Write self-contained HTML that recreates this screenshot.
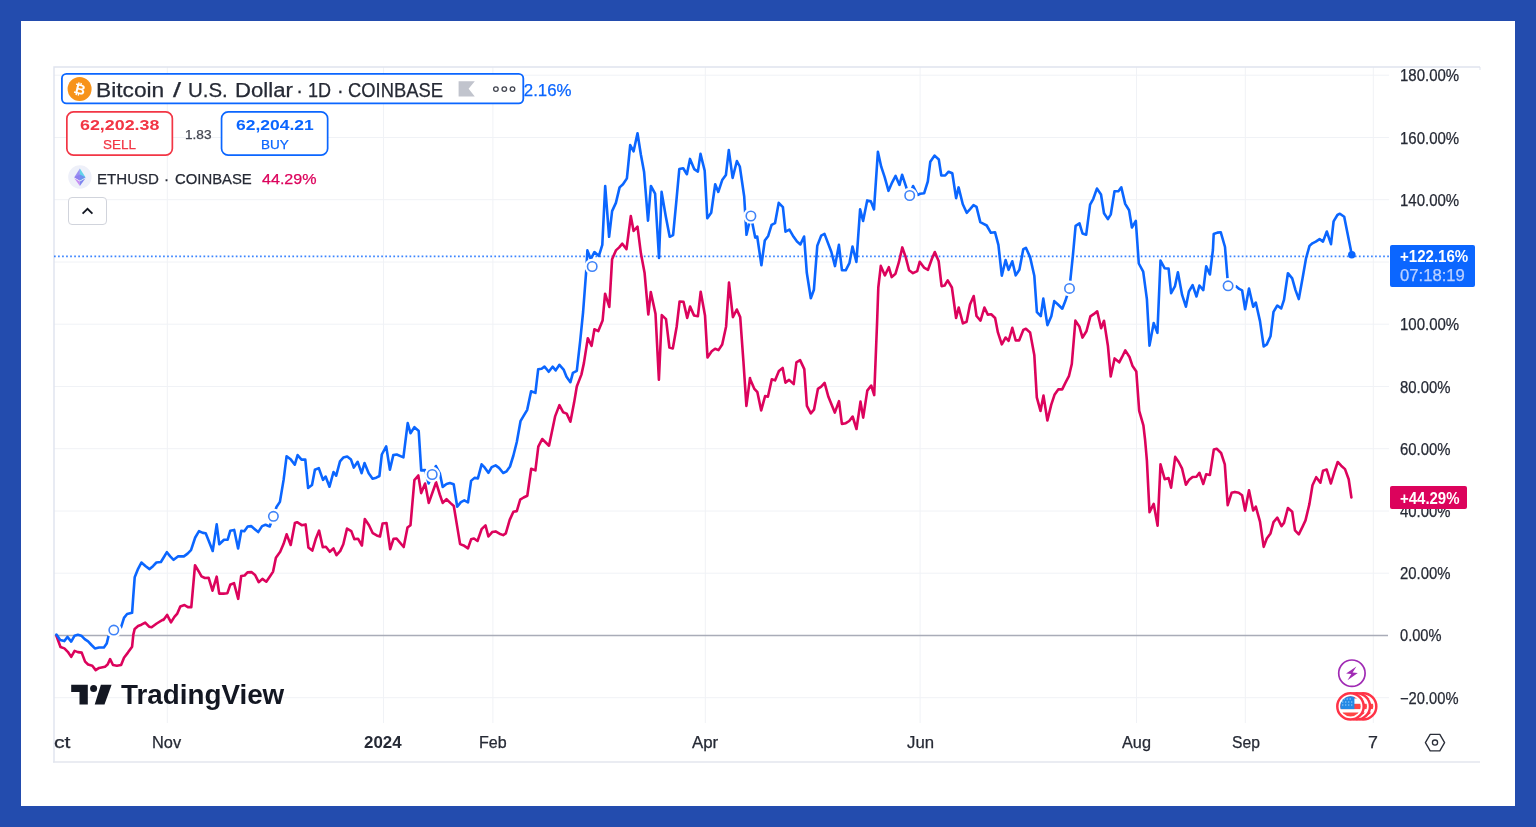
<!DOCTYPE html>
<html lang="en"><head><meta charset="utf-8"><title>BTCUSD vs ETHUSD</title>
<style>
html,body{margin:0;padding:0}
body{width:1536px;height:827px;overflow:hidden;background:#234cae;position:relative;font-family:"Liberation Sans",sans-serif;color:#131722}
.panel{position:absolute;left:21px;top:21px;width:1494px;height:785px;background:#fff}
.chart{position:absolute;left:0;top:0}
.abs{position:absolute;white-space:nowrap}
.tx{position:absolute;white-space:nowrap;transform-origin:0 50%;z-index:2;-webkit-text-stroke:.25px}
.tx.b{-webkit-text-stroke:0}
.title{position:absolute;left:60.8px;top:72.8px;width:460.6px;height:29.2px;border:1.8px solid #0b66ff;border-radius:5px;background:#fff;z-index:1}
.box{position:absolute;top:111px;height:43px;border:1.8px solid;border-radius:7px;background:#fff}
.lab{position:absolute;left:1390px;border-radius:2px;z-index:2}
</style></head><body>
<div class="panel"></div>
<svg class="chart" width="1536" height="827" viewBox="0 0 1536 827">
<line x1="167.3" y1="67" x2="167.3" y2="723" stroke="#f0f2f6" stroke-width="1"/>
<line x1="383.5" y1="67" x2="383.5" y2="723" stroke="#f0f2f6" stroke-width="1"/>
<line x1="492.9" y1="67" x2="492.9" y2="723" stroke="#f0f2f6" stroke-width="1"/>
<line x1="705.3" y1="67" x2="705.3" y2="723" stroke="#f0f2f6" stroke-width="1"/>
<line x1="920.1" y1="67" x2="920.1" y2="723" stroke="#f0f2f6" stroke-width="1"/>
<line x1="1136.5" y1="67" x2="1136.5" y2="723" stroke="#f0f2f6" stroke-width="1"/>
<line x1="1245.3" y1="67" x2="1245.3" y2="723" stroke="#f0f2f6" stroke-width="1"/>
<line x1="1373.3" y1="67" x2="1373.3" y2="723" stroke="#f0f2f6" stroke-width="1"/>
<line x1="54" y1="75.2" x2="1389" y2="75.2" stroke="#f0f2f6" stroke-width="1"/>
<line x1="54" y1="137.5" x2="1389" y2="137.5" stroke="#f0f2f6" stroke-width="1"/>
<line x1="54" y1="199.7" x2="1389" y2="199.7" stroke="#f0f2f6" stroke-width="1"/>
<line x1="54" y1="262.0" x2="1389" y2="262.0" stroke="#f0f2f6" stroke-width="1"/>
<line x1="54" y1="324.2" x2="1389" y2="324.2" stroke="#f0f2f6" stroke-width="1"/>
<line x1="54" y1="386.5" x2="1389" y2="386.5" stroke="#f0f2f6" stroke-width="1"/>
<line x1="54" y1="448.7" x2="1389" y2="448.7" stroke="#f0f2f6" stroke-width="1"/>
<line x1="54" y1="511.0" x2="1389" y2="511.0" stroke="#f0f2f6" stroke-width="1"/>
<line x1="54" y1="573.2" x2="1389" y2="573.2" stroke="#f0f2f6" stroke-width="1"/>
<line x1="54" y1="697.7" x2="1389" y2="697.7" stroke="#f0f2f6" stroke-width="1"/>
<line x1="54" y1="635.5" x2="1388" y2="635.5" stroke="#a9acb8" stroke-width="1.3"/>
<path d="M54 762.5 L54 67 L1480 67" fill="none" stroke="#dfe3ee" stroke-width="1.4"/>
<path d="M53 762 L1480 762" fill="none" stroke="#e3e6ee" stroke-width="1.4"/>
<path d="M1480 67 L1480 70" fill="none" stroke="#dfe3ee" stroke-width="1"/>
<line x1="54" y1="256.3" x2="1390" y2="256.3" stroke="#0b66ff" stroke-width="1.7" stroke-opacity=".8" stroke-dasharray="1.7 2.34"/>
<path d="M56.4 635.7 L60.5 647.0 L64.4 648.4 L67.8 651.8 L71.2 656.9 L74.6 650.9 L77.9 652.1 L81.7 652.6 L85.1 661.6 L88.1 664.5 L92.3 665.7 L95.7 670.1 L99.1 667.9 L105.0 666.7 L107.6 664.5 L110.1 659.1 L113.0 665.0 L116.9 665.7 L121.1 665.0 L124.0 657.7 L127.9 652.6 L132.1 646.7 L133.3 634.8 L134.7 628.9 L138.1 626.0 L141.4 624.7 L145.2 622.6 L149.1 626.7 L151.6 627.2 L156.7 623.5 L162.6 619.9 L163.4 620.0 L167.1 614.9 L171.0 622.4 L174.4 616.9 L177.3 613.6 L180.3 606.5 L184.5 605.1 L187.9 607.1 L191.3 607.1 L195.0 565.3 L198.6 571.2 L201.5 576.3 L204.9 578.0 L208.6 577.7 L212.5 590.7 L216.7 576.7 L219.2 593.6 L223.5 593.6 L227.4 593.2 L230.2 584.8 L234.0 583.1 L238.2 598.8 L241.2 576.0 L244.6 575.5 L247.5 572.4 L251.4 572.1 L255.1 575.0 L258.7 582.2 L262.4 578.9 L266.3 581.7 L269.7 576.7 L273.1 571.6 L275.9 557.7 L280.2 551.8 L283.6 543.8 L286.6 534.3 L290.7 545.0 L294.9 523.0 L297.1 522.2 L301.7 525.2 L305.6 524.4 L308.4 547.5 L312.3 550.6 L315.7 539.1 L319.1 530.6 L322.8 547.2 L325.9 546.7 L329.8 551.8 L333.5 548.4 L336.5 555.2 L340.3 550.9 L343.3 544.2 L347.0 528.6 L351.3 531.1 L354.3 539.1 L358.0 538.7 L361.9 545.5 L364.8 519.1 L369.0 525.2 L372.8 533.2 L376.7 535.4 L380.0 536.5 L382.6 523.5 L386.5 523.0 L390.2 549.2 L393.6 538.7 L396.6 538.6 L403.7 547.0 L407.5 527.6 L410.5 525.2 L414.4 480.1 L418.3 475.5 L421.2 493.1 L425.1 483.5 L428.8 502.9 L436.1 482.3 L439.8 494.5 L442.7 502.9 L446.5 499.2 L450.3 502.9 L453.8 506.0 L457.2 526.6 L460.1 544.1 L464.3 545.8 L468.0 548.3 L471.1 539.3 L474.0 538.5 L477.5 541.0 L481.6 529.2 L485.5 525.3 L488.4 536.5 L492.2 532.1 L495.6 531.4 L499.5 533.7 L503.2 535.1 L505.8 533.4 L509.7 519.9 L513.4 511.7 L516.8 511.1 L520.2 499.6 L523.6 497.5 L527.3 495.8 L531.2 468.7 L535.4 470.4 L538.3 446.7 L542.2 439.0 L549.0 445.7 L555.2 416.1 L559.4 405.1 L563.1 412.2 L566.7 413.6 L570.4 421.7 L574.1 402.6 L576.8 386.5 L581.4 374.6 L583.9 363.1 L587.8 338.2 L591.6 345.9 L594.4 329.3 L598.3 331.1 L602.6 320.5 L605.1 293.7 L609.3 306.9 L612.1 259.2 L615.9 250.4 L619.2 247.4 L622.3 243.7 L626.5 249.1 L630.8 216.1 L633.6 231.0 L637.5 226.7 L640.9 253.3 L644.6 273.1 L648.3 314.5 L650.8 292.0 L655.5 313.7 L658.9 379.7 L661.8 315.1 L666.0 319.1 L669.4 347.5 L672.8 348.4 L676.7 326.4 L679.6 301.5 L683.5 301.8 L687.2 317.9 L690.1 306.6 L694.0 315.4 L697.9 316.2 L700.7 291.7 L705.0 315.4 L707.5 357.4 L711.7 351.3 L715.1 348.7 L718.5 350.1 L722.2 344.5 L726.1 326.4 L729.0 282.6 L732.9 317.1 L736.8 309.5 L740.2 317.1 L743.4 361.1 L746.4 405.9 L750.0 378.0 L750.2 379.2 L754.4 388.9 L757.4 392.2 L761.2 410.4 L765.1 396.1 L767.9 396.8 L771.8 379.2 L775.0 380.4 L778.9 371.1 L782.7 368.0 L785.4 382.6 L789.1 379.9 L793.7 384.1 L796.4 362.3 L800.1 360.1 L804.3 369.1 L806.9 405.8 L810.8 413.4 L814.0 409.7 L817.9 388.9 L821.2 386.7 L824.6 382.9 L828.4 396.8 L834.8 412.6 L839.0 401.2 L841.9 423.9 L845.8 423.2 L849.2 421.0 L852.6 416.5 L856.5 429.0 L860.5 401.6 L863.2 417.6 L867.3 390.6 L871.2 385.5 L874.2 395.1 L877.1 322.0 L878.3 287.5 L880.8 265.9 L884.9 275.4 L888.8 267.2 L891.7 277.1 L895.5 273.7 L898.9 262.2 L902.3 247.4 L905.7 257.1 L909.1 270.3 L913.0 273.2 L917.2 271.1 L919.7 261.8 L924.0 267.6 L928.0 269.8 L931.9 258.8 L934.8 252.0 L938.7 261.3 L941.6 286.2 L944.6 285.5 L947.7 280.4 L951.9 287.5 L956.1 318.0 L958.7 307.5 L962.9 323.4 L966.6 321.7 L970.0 304.5 L973.7 296.0 L976.5 316.0 L980.5 320.6 L984.4 307.5 L987.8 314.6 L991.2 314.3 L995.1 318.0 L997.9 332.4 L1001.8 344.3 L1005.6 337.5 L1008.6 340.9 L1012.3 327.8 L1015.7 340.4 L1019.1 340.4 L1023.3 329.9 L1025.9 328.7 L1030.1 332.4 L1034.3 354.9 L1036.8 397.3 L1040.5 410.9 L1043.5 395.6 L1047.4 420.5 L1051.2 404.9 L1054.5 394.8 L1058.4 389.2 L1062.2 389.4 L1065.5 382.6 L1068.9 376.2 L1071.8 364.0 L1075.4 320.6 L1079.4 326.6 L1082.5 337.6 L1086.4 331.3 L1090.4 316.4 L1094.0 313.9 L1097.2 311.3 L1101.1 328.3 L1104.0 320.8 L1107.9 345.7 L1110.7 376.5 L1114.6 358.4 L1119.2 362.3 L1122.2 356.7 L1125.3 350.4 L1129.5 357.0 L1132.4 365.7 L1136.3 371.4 L1139.2 410.9 L1143.4 425.3 L1145.1 440.0 L1146.9 460.6 L1149.5 512.2 L1153.7 503.8 L1157.6 525.8 L1160.5 464.3 L1164.7 479.2 L1168.6 478.1 L1171.1 487.7 L1175.2 456.9 L1178.7 462.0 L1182.1 468.7 L1185.9 484.8 L1188.9 480.1 L1192.6 477.0 L1196.5 476.7 L1199.4 472.8 L1203.3 484.0 L1206.2 474.2 L1209.9 475.0 L1213.8 449.6 L1216.7 448.8 L1221.1 453.0 L1224.8 464.3 L1227.7 505.1 L1231.6 492.8 L1234.9 491.9 L1238.7 492.8 L1242.1 495.3 L1245.1 510.6 L1249.0 490.2 L1253.2 510.6 L1255.8 506.7 L1260.0 521.6 L1263.7 546.9 L1266.8 538.5 L1270.5 533.4 L1273.5 522.1 L1277.3 517.7 L1281.5 526.1 L1284.0 522.9 L1287.9 508.0 L1292.2 511.7 L1295.0 530.4 L1298.8 534.3 L1302.6 526.6 L1305.5 520.4 L1309.4 504.1 L1312.5 485.2 L1316.2 477.2 L1320.4 482.6 L1323.0 470.8 L1326.7 469.6 L1330.9 483.5 L1334.3 472.1 L1337.7 462.0 L1341.2 465.7 L1345.0 469.1 L1348.7 479.2 L1351.4 497.5" fill="none" stroke="#dc035c" stroke-width="2.6" stroke-linejoin="round" stroke-linecap="round"/>
<path d="M56.4 634.5 L60.2 639.9 L64.4 641.1 L67.4 636.9 L71.2 641.6 L74.6 635.7 L77.9 634.8 L81.3 635.7 L84.7 639.1 L88.1 641.3 L91.5 645.0 L94.9 648.4 L99.1 647.5 L103.9 647.5 L106.7 643.6 L108.4 636.5 L113.8 630.1 L121.1 627.2 L124.0 617.9 L127.1 614.0 L132.1 612.8 L133.3 595.9 L134.7 577.3 L138.1 568.8 L141.4 562.5 L145.7 566.2 L149.6 569.1 L153.0 566.2 L156.4 562.5 L160.9 562.0 L163.5 557.8 L166.9 552.2 L170.2 556.4 L173.6 559.8 L177.9 556.4 L183.8 556.4 L184.2 556.1 L187.6 553.6 L191.0 550.2 L195.2 537.5 L199.0 531.2 L202.9 532.9 L205.7 533.2 L209.1 541.7 L212.7 551.0 L216.7 524.4 L219.3 544.3 L224.0 539.7 L227.7 539.7 L230.3 530.7 L234.2 529.9 L238.1 548.5 L241.3 530.7 L244.3 531.2 L247.7 526.5 L251.1 526.1 L254.5 529.0 L258.2 532.1 L262.1 526.1 L265.5 524.8 L269.7 526.5 L273.4 516.3 L276.5 507.0 L279.9 501.9 L283.6 479.9 L286.6 456.2 L290.9 459.6 L294.8 464.7 L297.6 455.1 L301.5 459.6 L305.3 459.6 L308.1 487.9 L312.0 485.0 L314.9 469.8 L318.8 468.1 L323.0 479.9 L325.6 476.5 L329.5 486.7 L333.5 472.0 L336.2 475.7 L340.0 461.3 L343.3 457.6 L347.2 456.6 L351.0 459.6 L353.8 467.6 L357.7 461.8 L361.6 473.2 L364.5 463.0 L368.7 473.2 L372.6 478.7 L376.3 477.7 L379.4 476.0 L381.8 454.5 L386.2 446.4 L389.9 469.8 L393.3 455.1 L396.7 454.5 L403.4 457.4 L407.7 423.1 L410.5 433.2 L414.4 427.1 L418.7 431.0 L421.2 470.4 L425.1 470.1 L428.6 483.5 L432.2 474.5 L435.9 466.0 L439.8 473.3 L442.7 486.9 L446.5 484.0 L449.9 483.1 L453.7 484.3 L457.2 506.8 L460.9 502.1 L464.3 500.4 L468.0 502.4 L471.1 480.9 L474.5 477.9 L477.9 478.4 L481.6 464.3 L484.6 467.4 L488.4 472.8 L491.7 467.1 L495.6 465.4 L499.0 467.9 L503.2 473.0 L506.6 471.3 L510.0 466.5 L513.4 455.5 L516.8 442.0 L520.5 421.2 L523.9 415.3 L527.2 409.8 L531.1 391.2 L535.4 392.9 L538.2 369.2 L541.6 368.7 L544.5 366.5 L548.7 371.8 L552.6 366.7 L555.7 370.4 L559.4 364.8 L563.6 369.6 L566.5 376.7 L570.4 382.2 L572.9 372.9 L576.8 370.9 L580.2 340.8 L583.1 312.0 L586.2 271.1 L587.4 250.4 L590.8 259.2 L594.4 252.1 L598.9 255.9 L602.3 244.9 L605.2 186.0 L609.1 236.8 L612.1 211.1 L615.9 202.9 L619.6 187.4 L623.0 184.3 L626.9 178.4 L630.2 145.1 L633.6 151.3 L637.5 133.2 L640.9 154.7 L644.1 172.1 L648.0 220.7 L650.9 186.0 L655.1 193.6 L659.0 257.9 L661.6 191.9 L665.8 216.5 L669.7 236.8 L673.1 235.1 L676.5 199.6 L679.3 169.1 L683.2 168.2 L686.9 174.2 L690.0 158.9 L694.2 169.1 L697.9 171.6 L700.5 153.9 L704.7 170.8 L707.3 218.2 L711.2 212.8 L715.2 184.3 L718.3 191.9 L722.2 180.1 L725.9 175.0 L728.8 150.1 L732.6 177.9 L736.9 161.0 L739.8 166.5 L744.2 196.5 L746.5 234.8 L750.9 215.8 L755.2 237.6 L757.2 236.5 L761.4 265.2 L764.8 240.5 L768.2 235.9 L771.6 224.9 L775.0 223.2 L778.7 202.9 L782.9 207.2 L785.5 231.7 L789.4 229.7 L793.6 236.8 L797.0 241.5 L800.4 244.4 L804.1 236.5 L806.8 272.8 L810.8 298.2 L813.9 289.7 L817.3 245.7 L821.2 235.6 L824.5 233.9 L831.3 251.7 L835.0 266.1 L838.9 244.9 L842.0 270.3 L845.7 270.3 L849.4 263.2 L852.5 246.6 L856.4 261.9 L860.1 209.4 L863.1 220.9 L867.2 200.4 L870.8 201.3 L874.0 209.4 L877.9 151.8 L881.2 166.7 L884.6 176.9 L888.5 190.8 L892.2 182.3 L895.6 175.9 L899.5 184.9 L902.1 174.7 L906.3 187.4 L909.7 195.7 L913.1 186.0 L917.6 195.0 L920.2 193.8 L924.1 193.3 L927.8 181.5 L930.3 161.7 L934.6 155.6 L938.8 159.5 L941.3 175.5 L945.2 175.5 L948.6 171.7 L952.3 173.3 L956.1 198.1 L958.6 187.4 L962.8 204.3 L966.7 212.8 L970.1 209.1 L973.5 205.2 L976.5 206.9 L980.3 222.1 L983.6 223.8 L986.7 225.5 L990.9 232.8 L995.0 232.2 L998.4 244.9 L1001.8 275.7 L1005.6 260.1 L1008.6 269.8 L1012.3 261.3 L1015.7 275.4 L1019.4 269.8 L1023.3 249.1 L1025.9 247.8 L1030.1 257.1 L1034.3 275.7 L1036.9 312.1 L1040.8 316.0 L1043.3 298.6 L1047.4 325.1 L1051.3 316.3 L1054.3 301.1 L1058.0 304.5 L1062.3 308.7 L1065.3 301.1 L1069.5 288.1 L1072.9 255.4 L1075.6 225.9 L1079.5 223.3 L1082.5 233.5 L1086.2 234.7 L1090.1 204.7 L1093.3 198.8 L1096.9 188.6 L1101.0 194.5 L1104.0 213.2 L1107.9 219.1 L1110.8 214.3 L1114.5 191.2 L1118.4 191.2 L1121.3 187.4 L1125.2 203.9 L1129.1 210.3 L1131.9 227.5 L1135.8 220.8 L1138.8 263.5 L1143.2 271.7 L1146.9 299.1 L1149.5 345.6 L1153.7 323.1 L1157.4 332.9 L1160.5 260.5 L1164.7 268.3 L1168.6 268.6 L1171.1 293.2 L1174.9 286.4 L1177.9 272.3 L1182.1 294.9 L1185.9 306.7 L1188.9 291.5 L1192.6 285.2 L1196.5 296.5 L1199.4 285.5 L1203.3 290.1 L1206.2 266.4 L1209.9 274.5 L1212.9 250.0 L1213.7 234.0 L1217.4 232.6 L1220.8 232.3 L1225.0 247.0 L1228.1 285.8 L1236.3 286.4 L1239.2 288.9 L1242.1 290.3 L1245.1 309.2 L1249.0 288.6 L1253.2 306.7 L1255.8 302.5 L1260.0 321.1 L1263.7 346.5 L1266.8 344.4 L1270.5 336.3 L1273.5 311.8 L1277.3 305.5 L1281.2 308.4 L1284.0 299.9 L1287.9 273.2 L1292.2 278.4 L1295.5 290.1 L1298.8 299.1 L1302.6 277.9 L1306.0 258.5 L1309.5 245.9 L1312.4 243.3 L1315.8 241.6 L1319.6 239.1 L1323.0 241.6 L1326.8 231.5 L1331.0 244.2 L1333.6 221.3 L1337.4 215.0 L1339.9 213.7 L1344.2 216.7 L1351.8 254.7" fill="none" stroke="#0b66ff" stroke-width="2.6" stroke-linejoin="round" stroke-linecap="round"/>
<circle cx="113.8" cy="630.1" r="7.8" fill="#fff"/>
<circle cx="113.8" cy="630.1" r="4.7" fill="#fff" stroke="#3f83f8" stroke-width="1.6"/>
<circle cx="273.4" cy="516.3" r="7.8" fill="#fff"/>
<circle cx="273.4" cy="516.3" r="4.7" fill="#fff" stroke="#3f83f8" stroke-width="1.6"/>
<circle cx="432.2" cy="474.5" r="7.8" fill="#fff"/>
<circle cx="432.2" cy="474.5" r="4.7" fill="#fff" stroke="#3f83f8" stroke-width="1.6"/>
<circle cx="592.2" cy="266.5" r="7.8" fill="#fff"/>
<circle cx="592.2" cy="266.5" r="4.7" fill="#fff" stroke="#3f83f8" stroke-width="1.6"/>
<circle cx="750.9" cy="216" r="7.8" fill="#fff"/>
<circle cx="750.9" cy="216" r="4.7" fill="#fff" stroke="#3f83f8" stroke-width="1.6"/>
<circle cx="909.7" cy="195.5" r="7.8" fill="#fff"/>
<circle cx="909.7" cy="195.5" r="4.7" fill="#fff" stroke="#3f83f8" stroke-width="1.6"/>
<circle cx="1069.5" cy="288.4" r="7.8" fill="#fff"/>
<circle cx="1069.5" cy="288.4" r="4.7" fill="#fff" stroke="#3f83f8" stroke-width="1.6"/>
<circle cx="1228.1" cy="285.8" r="7.8" fill="#fff"/>
<circle cx="1228.1" cy="285.8" r="4.7" fill="#fff" stroke="#3f83f8" stroke-width="1.6"/>
<circle cx="1351.8" cy="254.7" r="3.8" fill="#0b66ff"/>
</svg>
<svg class="abs" style="left:0;top:0;z-index:1" width="600" height="170" viewBox="0 0 600 170">
<rect x="61.9" y="73.9" width="461.4" height="29.5" rx="4.6" fill="#fff" stroke="#0b66ff" stroke-width="1.8"/>
<rect x="66.85" y="111.85" width="105.5" height="43.3" rx="6.6" fill="#fff" stroke="#f23645" stroke-width="1.7"/>
<rect x="221.55" y="111.85" width="106.1" height="43.3" rx="6.6" fill="#fff" stroke="#0b66ff" stroke-width="1.7"/>
<circle cx="79.6" cy="88.9" r="12" fill="#f7931a"/><text x="79.8" y="94" font-family="Liberation Sans, sans-serif" font-size="14" font-weight="bold" fill="#fff" text-anchor="middle" transform="rotate(14 79.6 88.9)">₿</text>
<path d="M458.6 81.2 H474.8 L468.6 88.8 L474.8 96.4 H458.6 Z" fill="#c1c4cd"/>
<g fill="none" stroke="#434651" stroke-width="1.3"><circle cx="495.9" cy="89.1" r="2.3"/><circle cx="504.3" cy="89.1" r="2.3"/><circle cx="512.5" cy="89.1" r="2.3"/></g>
</svg>
<svg class="abs" style="left:68px;top:165.3px" width="24" height="24" viewBox="0 0 24 24"><circle cx="11.9" cy="12" r="11.7" fill="#eef0f9"/><path d="M11.9 3.4 L6.3 12.2 L11.9 15.4 Z" fill="#9a8ff2"/><path d="M11.9 3.4 L17.5 12.2 L11.9 15.4 Z" fill="#62d2ea"/><path d="M11.9 9.6 L6.3 12.2 L11.9 15.4 Z" fill="#8f7ff0"/><path d="M11.9 9.6 L17.5 12.2 L11.9 15.4 Z" fill="#6f8ff0"/><path d="M6.3 13.3 L11.9 20.9 L11.9 16.5 Z" fill="#c68df2"/><path d="M17.5 13.3 L11.9 20.9 L11.9 16.5 Z" fill="#7f86ef"/></svg>
<div class="abs" style="left:68px;top:197px;width:36.5px;height:25.5px;border:1px solid #d1d4dc;border-radius:4px;background:#fff"><svg class="abs" style="left:11px;top:6.5px" width="15" height="12" viewBox="0 0 15 12"><path d="M2.6 8.6 L7.5 3.8 L12.4 8.6" fill="none" stroke="#131722" stroke-width="1.8"/></svg></div>
<svg class="abs" style="left:70px;top:683px" width="44" height="24" viewBox="0 0 44 24"><path d="M1.2 1.8 H17.8 V21.4 H9.5 V8.9 H1.2 Z" fill="#131722"/><circle cx="23.6" cy="5.4" r="3.5" fill="#131722"/><path d="M30.9 1.8 H41.6 L34.5 21.4 H24.7 Z" fill="#131722"/></svg>
<div class="lab" style="top:244.5px;width:84.6px;height:42px;background:#0b66ff"></div>
<div class="lab" style="top:486px;width:76.7px;height:23px;background:#dc035c"></div>
<div id="t_t1" class="tx" style="left:96.24px;top:79.67px;font-size:20px;line-height:20px;font-weight:normal;color:#262a35;transform:scaleX(1.1365);">Bitcoin</div>
<div id="t_t2" class="tx" style="left:172.60px;top:79.67px;font-size:20px;line-height:20px;font-weight:normal;color:#262a35;transform:scaleX(1.4382);">/</div>
<div id="t_t3" class="tx" style="left:187.77px;top:79.67px;font-size:20px;line-height:20px;font-weight:normal;color:#262a35;transform:scaleX(1.0217);">U.S.</div>
<div id="t_t4" class="tx" style="left:234.57px;top:79.67px;font-size:20px;line-height:20px;font-weight:normal;color:#262a35;transform:scaleX(1.1073);">Dollar</div>
<div id="t_t5" class="tx" style="left:296.37px;top:79.67px;font-size:20px;line-height:20px;font-weight:normal;color:#262a35;transform:scaleX(1.0000);">·</div>
<div id="t_t6" class="tx" style="left:308.42px;top:79.67px;font-size:20px;line-height:20px;font-weight:normal;color:#262a35;transform:scaleX(0.9017);">1D</div>
<div id="t_t7" class="tx" style="left:336.97px;top:79.67px;font-size:20px;line-height:20px;font-weight:normal;color:#262a35;transform:scaleX(1.0000);">·</div>
<div id="t_t8" class="tx" style="left:347.50px;top:79.67px;font-size:20px;line-height:20px;font-weight:normal;color:#262a35;transform:scaleX(0.9192);">COINBASE</div>
<div id="t_pct" class="tx" style="left:504.69px;top:81.51px;font-size:17px;line-height:17px;font-weight:normal;color:#0b66ff;transform:scaleX(0.9925);z-index:0">122.16%</div>
<div id="t_sellp" class="tx b" style="left:80.33px;top:117.13px;font-size:15.2px;line-height:15.2px;font-weight:bold;color:#f23645;transform:scaleX(1.1756);">62,202.38</div>
<div id="t_sell" class="tx" style="left:102.99px;top:138.09px;font-size:13.6px;line-height:13.6px;font-weight:normal;color:#f23645;transform:scaleX(0.9895);">SELL</div>
<div id="t_spread" class="tx" style="left:184.58px;top:129.00px;font-size:12.4px;line-height:12.4px;font-weight:normal;color:#434651;transform:scaleX(1.1000);">1.83</div>
<div id="t_buyp" class="tx b" style="left:235.95px;top:117.13px;font-size:15.2px;line-height:15.2px;font-weight:bold;color:#0b66ff;transform:scaleX(1.1497);">62,204.21</div>
<div id="t_buy" class="tx" style="left:260.79px;top:138.09px;font-size:13.6px;line-height:13.6px;font-weight:normal;color:#0b66ff;transform:scaleX(0.9954);">BUY</div>
<div id="t_e1" class="tx" style="left:96.69px;top:170.73px;font-size:15.2px;line-height:15.2px;font-weight:normal;color:#262a35;transform:scaleX(0.9929);">ETHUSD</div>
<div id="t_e2" class="tx" style="left:164.07px;top:170.73px;font-size:15.2px;line-height:15.2px;font-weight:normal;color:#262a35;transform:scaleX(1.0000);">·</div>
<div id="t_e3" class="tx" style="left:175.01px;top:170.73px;font-size:15.2px;line-height:15.2px;font-weight:normal;color:#262a35;transform:scaleX(0.9781);">COINBASE</div>
<div id="t_ethp" class="tx" style="left:261.63px;top:170.73px;font-size:15.2px;line-height:15.2px;font-weight:normal;color:#dc035c;transform:scaleX(1.0585);">44.29%</div>
<div id="t_tv" class="tx b" style="left:120.63px;top:681.21px;font-size:27.4px;line-height:27.4px;font-weight:bold;color:#131722;transform:scaleX(1.0149);">TradingView</div>
<div id="t_y200" class="tx" style="left:1400.40px;top:68.46px;font-size:16px;line-height:16px;font-weight:normal;color:#262a35;transform:scaleX(0.9371);z-index:1">180.00%</div>
<div id="t_y180" class="tx" style="left:1400.40px;top:130.71px;font-size:16px;line-height:16px;font-weight:normal;color:#262a35;transform:scaleX(0.9371);z-index:1">160.00%</div>
<div id="t_y160" class="tx" style="left:1400.40px;top:192.96px;font-size:16px;line-height:16px;font-weight:normal;color:#262a35;transform:scaleX(0.9371);z-index:1">140.00%</div>
<div id="t_y140" class="tx" style="left:1400.40px;top:255.21px;font-size:16px;line-height:16px;font-weight:normal;color:#262a35;transform:scaleX(0.9371);z-index:1">120.00%</div>
<div id="t_y120" class="tx" style="left:1400.40px;top:317.46px;font-size:16px;line-height:16px;font-weight:normal;color:#262a35;transform:scaleX(0.9371);z-index:1">100.00%</div>
<div id="t_y100" class="tx" style="left:1400.41px;top:379.71px;font-size:16px;line-height:16px;font-weight:normal;color:#262a35;transform:scaleX(0.9304);z-index:1">80.00%</div>
<div id="t_y80" class="tx" style="left:1400.41px;top:441.96px;font-size:16px;line-height:16px;font-weight:normal;color:#262a35;transform:scaleX(0.9304);z-index:1">60.00%</div>
<div id="t_y60" class="tx" style="left:1400.41px;top:504.21px;font-size:16px;line-height:16px;font-weight:normal;color:#262a35;transform:scaleX(0.9304);z-index:1">40.00%</div>
<div id="t_y40" class="tx" style="left:1400.41px;top:566.46px;font-size:16px;line-height:16px;font-weight:normal;color:#262a35;transform:scaleX(0.9304);z-index:1">20.00%</div>
<div id="t_y20" class="tx" style="left:1400.42px;top:627.71px;font-size:16px;line-height:16px;font-weight:normal;color:#262a35;transform:scaleX(0.9136);z-index:1">0.00%</div>
<div id="t_y0" class="tx" style="left:1400.42px;top:690.96px;font-size:16px;line-height:16px;font-weight:normal;color:#262a35;transform:scaleX(0.9191);z-index:1">−20.00%</div>
<div id="t_x0" class="tx" style="left:54.13px;top:735.26px;font-size:16px;line-height:16px;font-weight:normal;color:#262a35;transform:scaleX(1.3196);">ct</div>
<div id="t_x1" class="tx" style="left:152.42px;top:735.26px;font-size:16px;line-height:16px;font-weight:normal;color:#262a35;transform:scaleX(1.0214);">Nov</div>
<div id="t_x2" class="tx b" style="left:363.89px;top:735.26px;font-size:16px;line-height:16px;font-weight:bold;color:#262a35;transform:scaleX(1.0542);">2024</div>
<div id="t_x3" class="tx" style="left:478.54px;top:735.26px;font-size:16px;line-height:16px;font-weight:normal;color:#262a35;transform:scaleX(1.0016);">Feb</div>
<div id="t_x4" class="tx" style="left:691.69px;top:735.26px;font-size:16px;line-height:16px;font-weight:normal;color:#262a35;transform:scaleX(1.0528);">Apr</div>
<div id="t_x5" class="tx" style="left:906.99px;top:735.26px;font-size:16px;line-height:16px;font-weight:normal;color:#262a35;transform:scaleX(1.0470);">Jun</div>
<div id="t_x6" class="tx" style="left:1121.62px;top:735.26px;font-size:16px;line-height:16px;font-weight:normal;color:#262a35;transform:scaleX(1.0170);">Aug</div>
<div id="t_x7" class="tx" style="left:1231.56px;top:735.26px;font-size:16px;line-height:16px;font-weight:normal;color:#262a35;transform:scaleX(0.9793);">Sep</div>
<div id="t_x8" class="tx" style="left:1368.13px;top:735.26px;font-size:16px;line-height:16px;font-weight:normal;color:#262a35;transform:scaleX(1.1165);">7</div>
<div id="t_l1" class="tx b" style="left:1400.10px;top:248.66px;font-size:16px;line-height:16px;font-weight:bold;color:#fff;transform:scaleX(0.9406);z-index:3">+122.16%</div>
<div id="t_l2" class="tx" style="left:1399.70px;top:268.26px;font-size:16px;line-height:16px;font-weight:normal;color:#bcd0ff;transform:scaleX(1.0404);z-index:3">07:18:19</div>
<div id="t_l3" class="tx b" style="left:1400.10px;top:490.96px;font-size:16px;line-height:16px;font-weight:bold;color:#fff;transform:scaleX(0.9353);z-index:3">+44.29%</div>
<svg class="abs" style="left:1335px;top:657px" width="46" height="66" viewBox="0 0 46 66">
<defs><clipPath id="fc281"><circle cx="28.1" cy="49.4" r="10.2"/></clipPath><clipPath id="fc218"><circle cx="21.8" cy="49.4" r="10.2"/></clipPath><clipPath id="fc155"><circle cx="15.5" cy="49.4" r="10.2"/></clipPath></defs>
<circle cx="16.9" cy="16.2" r="13.2" fill="#fff" stroke="#a02bb4" stroke-width="1.7"/>
<path d="M21.4 9.5 L11.1 16.5 L16.3 17.1 L12.5 23.3 L22.8 15.9 L17.6 15.4 Z" fill="#a02bb4"/>
<g><circle cx="28.1" cy="49.4" r="13.2" fill="#fff" stroke="#ff3347" stroke-width="2.5"/><g clip-path="url(#fc281)"><rect x="17.1" y="38.4" width="22" height="22" fill="#fff"/><rect x="17.1" y="38.4" width="22" height="3.1" fill="#ff4545"/><rect x="17.1" y="46.8" width="22" height="5.3" fill="#ff4545"/><rect x="17.1" y="55.5" width="22" height="5" fill="#ff4545"/></g></g>
<g><circle cx="21.8" cy="49.4" r="13.2" fill="#fff" stroke="#ff3347" stroke-width="2.5"/><g clip-path="url(#fc218)"><rect x="10.8" y="38.4" width="22" height="22" fill="#fff"/><rect x="10.8" y="38.4" width="22" height="3.1" fill="#ff4545"/><rect x="10.8" y="46.8" width="22" height="5.3" fill="#ff4545"/><rect x="10.8" y="55.5" width="22" height="5" fill="#ff4545"/></g></g>
<g><circle cx="15.5" cy="49.4" r="13.2" fill="#fff" stroke="#ff3347" stroke-width="2.5"/><g clip-path="url(#fc155)"><rect x="4.5" y="38.4" width="22" height="22" fill="#fff"/><rect x="4.5" y="38.4" width="22" height="3.1" fill="#ff4545"/><rect x="4.5" y="46.8" width="22" height="5.3" fill="#ff4545"/><rect x="4.5" y="55.5" width="22" height="5" fill="#ff4545"/><rect x="4.5" y="37.9" width="14.9" height="14.2" fill="#2489e6"/><g fill="#8cc6f7"><circle cx="9.2" cy="42.0" r=".8"/><circle cx="12.2" cy="42.0" r=".8"/><circle cx="15.2" cy="42.0" r=".8"/><circle cx="7.7" cy="45.0" r=".8"/><circle cx="10.7" cy="45.0" r=".8"/><circle cx="13.7" cy="45.0" r=".8"/><circle cx="16.7" cy="45.0" r=".8"/><circle cx="7.7" cy="48.0" r=".8"/><circle cx="10.7" cy="48.0" r=".8"/><circle cx="13.7" cy="48.0" r=".8"/><circle cx="16.7" cy="48.0" r=".8"/></g></g></g>
</svg>
<svg class="abs" style="left:1423px;top:731px" width="24" height="24" viewBox="0 0 24 24"><path d="M2.4 11.6 L7.2 3.4 H16.8 L21.6 11.6 L16.8 19.8 H7.2 Z" fill="none" stroke="#2a2e39" stroke-width="1.35" stroke-linejoin="round"/><circle cx="12" cy="11.6" r="2.6" fill="none" stroke="#2a2e39" stroke-width="1.3"/></svg>
</body></html>
